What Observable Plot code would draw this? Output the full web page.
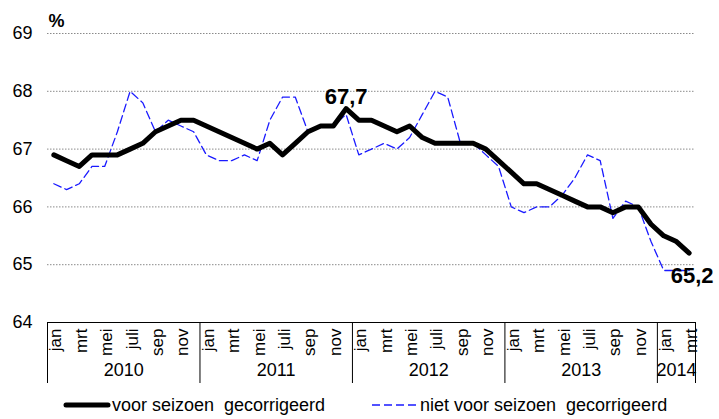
<!DOCTYPE html>
<html>
<head>
<meta charset="utf-8">
<script src="https://cdn.jsdelivr.net/npm/d3@7"></script>
<script src="https://cdn.jsdelivr.net/npm/@observablehq/plot@0.6"></script>
<style>
  body { margin: 0; background: white; font-family: "Liberation Sans", Arial, sans-serif; }
  #chart { width: 719px; }
  #legend { position: relative; width: 719px; height: 27px; font-size: 18px; color: black; }
  #legend .item { position: absolute; top: 0; height: 27px; white-space: pre; }
</style>
</head>
<body>
<div id="chart"></div>
<div id="legend"></div>
<script>
// ---- data ----
const monthNames = ["jan","feb","mrt","apr","mei","jun","juli","aug","sep","okt","nov","dec"];
const years = ["2010","2011","2012","2013","2014"];
const startYear = 2010;
// voor seizoen gecorrigeerd (jan 2010 - mrt 2014)
const seizoenGecorrigeerd = [
  66.9, 66.8, 66.7, 66.9, 66.9, 66.9, 67.0, 67.1, 67.3, 67.4, 67.5, 67.5,
  67.4, 67.3, 67.2, 67.1, 67.0, 67.1, 66.9, 67.1, 67.3, 67.4, 67.4, 67.7,
  67.5, 67.5, 67.4, 67.3, 67.4, 67.2, 67.1, 67.1, 67.1, 67.1, 67.0, 66.8,
  66.6, 66.4, 66.4, 66.3, 66.2, 66.1, 66.0, 66.0, 65.9, 66.0, 66.0, 65.7,
  65.5, 65.4, 65.2
];
// niet voor seizoen gecorrigeerd
const nietGecorrigeerd = [
  66.4, 66.3, 66.4, 66.7, 66.7, 67.3, 68.0, 67.8, 67.3, 67.5, 67.4, 67.3,
  66.9, 66.8, 66.8, 66.9, 66.8, 67.5, 67.9, 67.9, 67.3, 67.4, 67.4, 67.6,
  66.9, 67.0, 67.1, 67.0, 67.2, 67.6, 68.0, 67.9, 67.1, 67.1, 66.9, 66.7,
  66.0, 65.9, 66.0, 66.0, 66.2, 66.5, 66.9, 66.8, 65.8, 66.1, 66.0, 65.4,
  64.9, 64.9, 64.9
];
const yTicks = [64, 65, 66, 67, 68, 69];
const gridTicks = [65, 66, 67, 68, 69];
const seriesNames = ["voor seizoen gecorrigeerd", "niet voor seizoen gecorrigeerd"];

// ---- derived tables ----
const n = seizoenGecorrigeerd.length;
const rows = d3.range(n).map(i => ({
  i,
  year: String(startYear + Math.floor(i / 12)),
  month: monthNames[i % 12],
  sa: seizoenGecorrigeerd[i],
  nsa: nietGecorrigeerd[i]
}));
const monthTicks = rows.filter(d => d.i % 2 === 0);
const yearTicks = years.map(y => {
  const idx = rows.filter(d => d.year === y).map(d => d.i);
  return {label: y, center: (d3.min(idx) + d3.max(idx)) / 2, start: d3.min(idx) - 0.5, end: d3.max(idx) + 0.5};
});
const bounds = Array.from(new Set(yearTicks.flatMap(d => [d.start, d.end])));
const maxRow = rows[d3.maxIndex(rows, d => d.sa)];
const lastRow = rows[n - 1];
const fmt = v => v.toFixed(1).replace(".", ",");

const chart = Plot.plot({
  width: 719,
  height: 392,
  marginTop: 33,
  marginBottom: 70,
  marginLeft: 47,
  marginRight: 24,
  x: {type: "linear", domain: [-0.5, n - 0.5], label: null},
  y: {domain: [64, 69], label: null},
  style: {fontFamily: "'Liberation Sans', Arial, sans-serif", fontSize: "18px", color: "black", background: "white", overflow: "visible"},
  marks: [
    Plot.gridY(gridTicks, {stroke: "#8a8a8a", strokeOpacity: 1, strokeWidth: 1, strokeDasharray: "1.5,1.5"}),
    Plot.ruleY([64], {stroke: "black", strokeWidth: 1}),
    Plot.axisY(yTicks, {tickSize: 0, tickPadding: 15, fontSize: 18, anchor: "left", tickFormat: d => String(d)}),
    Plot.axisX(bounds, {tickSize: 61, tickFormat: () => "", stroke: "black", anchor: "bottom"}),
    Plot.text(monthTicks, {x: "i", text: "month", frameAnchor: "bottom", rotate: -90, textAnchor: "end", lineAnchor: "middle", dy: 6, dx: 2, fontSize: 17}),
    Plot.text(yearTicks, {x: "center", text: "label", frameAnchor: "bottom", lineAnchor: "middle", dy: 48, fontSize: 18}),
    Plot.line(rows, {x: "i", y: "nsa", stroke: "#1a1aff", strokeWidth: 1.3, strokeDasharray: "8,4"}),
    Plot.line(rows, {x: "i", y: "sa", stroke: "black", strokeWidth: 5, strokeLinejoin: "round"}),
    Plot.text([maxRow], {x: "i", y: "sa", text: d => fmt(d.sa), lineAnchor: "bottom", dy: -5, fontSize: 22, fontWeight: "bold"}),
    Plot.text([lastRow], {x: "i", y: "sa", text: d => fmt(d.sa), lineAnchor: "top", dy: 14, dx: 3, fontSize: 22, fontWeight: "bold"}),
    Plot.text(["%"], {frameAnchor: "top-left", text: d => d, textAnchor: "start", lineAnchor: "bottom", dy: -7, dx: 1, fontSize: 18, fontWeight: "bold"})
  ]
});
document.getElementById("chart").appendChild(chart);

// ---- legend (HTML, below the SVG) ----
const legend = document.getElementById("legend");
legend.innerHTML = `
  <svg class="item" style="left:63px" width="48" height="27"><line x1="3" x2="45" y1="13" y2="13" stroke="black" stroke-width="5" stroke-linecap="round"/></svg>
  <div class="item" style="left:112px; line-height:27px;">${seriesNames[0].replace("seizoen ", "seizoen  ")}</div>
  <svg class="item" style="left:372px" width="46" height="27"><line x1="0" x2="44" y1="13" y2="13" stroke="#1a1aff" stroke-width="1.3" stroke-dasharray="8,4"/></svg>
  <div class="item" style="left:420px; line-height:27px;">${seriesNames[1].replace("seizoen ", "seizoen  ")}</div>
`;
</script>
</body>
</html>
